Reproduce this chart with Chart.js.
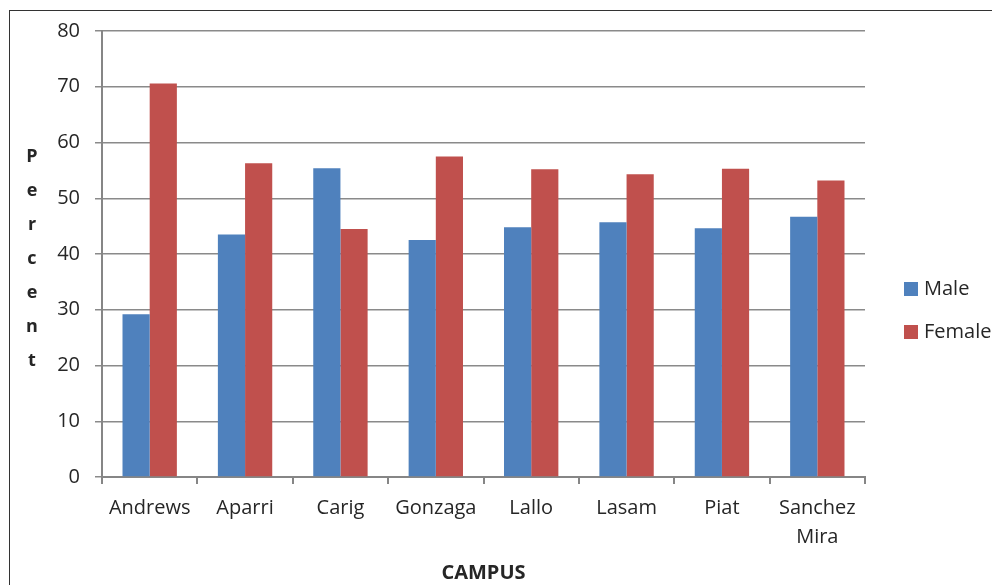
<!DOCTYPE html>
<html>
<head>
<meta charset="utf-8">
<script src="https://cdn.jsdelivr.net/npm/chart.js@4/dist/chart.umd.min.js"></script>
<style>
  html, body { margin: 0; padding: 0; background: #fff; overflow: hidden; }
  #frame { position: absolute; left: 9px; top: 10px; width: 1100px; height: 700px; border: 1px solid #333; }
  #c { position: absolute; left: 0; top: 0; }
</style>
</head>
<body>
<div id="frame"></div>
<canvas id="c" width="992" height="585"></canvas>
<script>
// Dữ liệu biểu đồ
const campuses = ['Andrews', 'Aparri', 'Carig', 'Gonzaga', 'Lallo', 'Lasam', 'Piat', ['Sanchez', 'Mira']];
const maleValues = [29.2, 43.5, 55.4, 42.5, 44.8, 45.7, 44.6, 46.7];
const femaleValues = [70.6, 56.3, 44.5, 57.5, 55.2, 54.3, 55.3, 53.2];
const yTicks = [0, 10, 20, 30, 40, 50, 60, 70, 80];
const yTitle = 'Percent';
const xTitle = 'CAMPUS';

const FONT = "'Open Sans', 'Noto Sans', sans-serif";
const TEXT = '#262626';

// Tiêu đề trục Y dạng chữ dọc + chú thích bên phải
const sidePlugin = {
    id: 'sideText',
    afterDraw(chart) {
        const ctx = chart.ctx;
        ctx.save();
        ctx.fillStyle = TEXT;
        ctx.textAlign = 'center';
        ctx.textBaseline = 'middle';
        ctx.font = 'bold 18px ' + FONT;
        const letters = yTitle.split('');
        letters.forEach((ch, i) => {
            ctx.fillText(ch, 32, 157 + i * 34);
        });

        // Chú thích
        ctx.textAlign = 'left';
        ctx.font = '20px ' + FONT;
        chart.data.datasets.forEach((ds, i) => {
            const y = 289 + i * 43;
            ctx.fillStyle = ds.backgroundColor;
            ctx.fillRect(904, y - 7, 14, 14);
            ctx.fillStyle = TEXT;
            ctx.fillText(ds.label, 924, y);
        });
        ctx.restore();
    }
};

new Chart(document.getElementById('c').getContext('2d'), {
    type: 'bar',
    data: {
        labels: campuses,
        datasets: [
            {
                label: 'Male',
                data: maleValues,
                backgroundColor: '#4F81BD',
                categoryPercentage: 0.57,
                barPercentage: 1.0
            },
            {
                label: 'Female',
                data: femaleValues,
                backgroundColor: '#C0504D',
                categoryPercentage: 0.57,
                barPercentage: 1.0
            }
        ]
    },
    options: {
        responsive: false,
        animation: false,
        devicePixelRatio: 1,
        layout: { padding: { top: 31, right: 127, bottom: 0, left: 0 } },
        plugins: {
            legend: { display: false },
            tooltip: { enabled: false }
        },
        scales: {
            x: {
                grid: {
                    drawOnChartArea: false,
                    drawTicks: true,
                    tickLength: 7,
                    color: '#868686',
                    lineWidth: 2,
                    offset: true
                },
                border: { color: '#868686', width: 2 },
                ticks: {
                    font: { family: FONT, size: 20, lineHeight: 1.45 },
                    color: TEXT,
                    padding: 10,
                    maxRotation: 0,
                    autoSkip: false
                },
                title: {
                    display: true,
                    text: xTitle,
                    color: TEXT,
                    font: { family: FONT, size: 20, weight: 'bold' },
                    padding: { top: 0, bottom: 0 }
                },
                afterFit: function(scale) { scale.height = 108; }
            },
            y: {
                min: 0,
                max: 80,
                afterBuildTicks: function(scale) {
                    scale.ticks = yTicks.map(v => ({ value: v }));
                },
                grid: {
                    color: '#8a8a8a',
                    lineWidth: 1.5,
                    tickLength: 7
                },
                border: { color: '#868686', width: 2 },
                ticks: {
                    font: { family: FONT, size: 20 },
                    color: TEXT,
                    padding: 15
                },
                afterFit: function(scale) { scale.width = 102; }
            }
        }
    },
    plugins: [sidePlugin]
});
</script>
</body>
</html>
